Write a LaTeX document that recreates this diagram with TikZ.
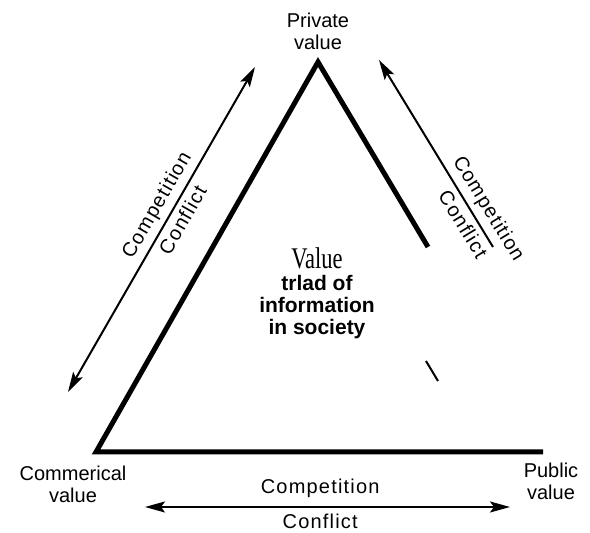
\documentclass[tikz,border=0pt]{standalone}
\usepackage{fontspec}
\setmainfont{Liberation Sans}
\newfontfamily\spacedfont[LetterSpace=6]{Liberation Sans}
\newfontfamily\valuefont[FakeStretch=0.75]{Liberation Serif}
\usepackage{tikz}
\usetikzlibrary{positioning, arrows, arrows.meta}
\tikzstyle{corner} = [align=center, 
inner sep=0pt, 
font=\fontsize{10}{11}\selectfont]
\tikzstyle{force} = [inner sep=0pt, 
font=\spacedfont\fontsize{10}{11}\selectfont]
\tikzstyle{centre} = [align=center, 
inner sep=0pt, 
font=\bfseries\fontsize{10.5}{11}\selectfont]
\tikzstyle{side} = [line width=2.5pt]
\tikzstyle{arrow} = [line width=1pt,>={Stealth[length=10pt,width=5.5pt,inset=2pt]}]

\begin{document}
\begin{tikzpicture}[x=0.5pt,y=-0.5pt]
\useasboundingbox (0,0) rectangle (590,533);

\coordinate (private) at (318,62);
\coordinate (commercial) at (96,452);
\coordinate (public) at (543,452);
\coordinate (right_end) at (428,247);
\coordinate (mark_top) at (426,361);
\coordinate (mark_bottom) at (438,381);

\node (private_label) [corner, above=6pt of private] {Private\\value};
\node (commercial_label) [corner, below=7pt of commercial, xshift=-11.5pt] {Commerical\\value};
\node (public_label) [corner, below=5.5pt of public, xshift=4pt] {Public\\value};
\node (triad) [centre] at (317,293) {{\valuefont\mdseries\fontsize{15}{11}\selectfont Value}\\
trlad of\\information\\in society};

\draw [side] (right_end) -- (private) -- (commercial) -- (public);
\draw [line width=1pt] (mark_top) -- (mark_bottom);

% arrows between the three values
\coordinate (left_top) at (255,67);
\coordinate (left_bottom) at (68,392);
\coordinate (right_top) at (379,60);
\coordinate (right_bottom) at (493,247);
\coordinate (bottom_left) at (145,507);
\coordinate (bottom_right) at (510,507);

\draw [arrow,<->] (left_bottom) -- node[force, sloped, pos=0.55, above=2.5pt] {Competition} 
node[force, sloped, pos=0.55, below=2.5pt] {Conflict} (left_top);
\draw [arrow,->] (right_bottom) -- node[force, sloped, pos=0.16, above=2.5pt] {Competition} 
node[force, sloped, pos=0.16, below=2.5pt] {Conflict} (right_top);
\draw [arrow,<->] (bottom_left) -- node[force, pos=0.48, above=4pt] {Competition} 
node[force, pos=0.48, below=3pt] {Conflict} (bottom_right);

\end{tikzpicture}
\end{document}
